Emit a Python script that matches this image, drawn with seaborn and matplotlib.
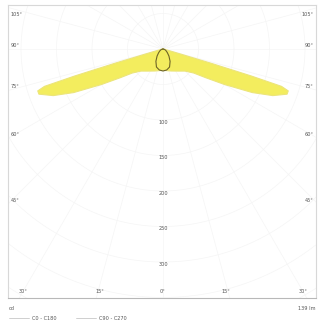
import numpy as np
import pandas as pd
import matplotlib
matplotlib.use("Agg")
import matplotlib.pyplot as plt
import seaborn as sns
from matplotlib.lines import Line2D

# ---- data (luminous intensity, cd, vs angle from nadir, degrees) ----
c0_angles = [0, 20, 35, 45, 52, 56, 60, 64, 67, 70, 71.5, 72.5, 73, 73.5, 74, 76, 80, 90]
c0_values = [30, 33, 38, 44, 55, 72, 100, 140, 168, 186, 186, 175, 130, 70, 25, 6, 2, 0]
c90_angles = [0, 10, 20, 30, 40, 50, 60, 70, 80, 90]
c90_values = [31, 30, 27, 20, 13, 8, 5, 3, 1, 0]
radial_ticks = [100, 150, 200, 250, 300]
side_angles = [45, 60, 75, 90, 105]
bottom_angles = [-30, -15, 0, 15, 30]
legend_labels = ["C0 - C180", "C90 - C270"]
flux_label = "139 lm"
unit_label = "cd"

sns.set_theme(style="white")
plt.rcParams['font.family'] = ['DejaVu Sans']

W, H = 322, 325
fig = plt.figure(figsize=(W / 100, H / 100), dpi=100)
fig.patch.set_facecolor("white")

# frame in pixels
L, R, T, B = 8, 316, 5, 298
ox, oy = 163, 49
s = 0.71  # px per cd
ax = fig.add_axes([L / W, (H - B) / H, (R - L) / W, (B - T) / H])
xlim = ((L - ox) / s, (R - ox) / s)
ylim = (-(B - oy) / s, (oy - T) / s)


def to_xy(angles, values):
    a = np.deg2rad(np.asarray(angles, float))
    v = np.asarray(values, float)
    a_full = np.concatenate([-a[::-1], a[1:]])
    v_full = np.concatenate([v[::-1], v[1:]])
    return v_full * np.sin(a_full), -v_full * np.cos(a_full)


# grid (very faint)
grid_c = "#f5f5f5"
th = np.linspace(0, 2 * np.pi, 400)
for r in range(50, 501, 50):
    ax.plot(r * np.cos(th), r * np.sin(th), color=grid_c, lw=0.5, zorder=0)
for ang in range(0, 360, 15):
    a = np.deg2rad(ang)
    ax.plot([0, 600 * np.sin(a)], [0, -600 * np.cos(a)], color=grid_c, lw=0.5, zorder=0)

x0, y0 = to_xy(c0_angles, c0_values)
x9, y9 = to_xy(c90_angles, c90_values)
df = pd.DataFrame({
    "x": np.concatenate([x0, x9]),
    "y": np.concatenate([y0, y9]),
    "curve": [legend_labels[0]] * len(x0) + [legend_labels[1]] * len(x9),
})
ax.fill(x0, y0, color="#f3ed5e", zorder=2, lw=0)
sns.lineplot(data=df, x="x", y="y", hue="curve", sort=False, estimator=None,
             palette={legend_labels[0]: "#ece57a", legend_labels[1]: "#6e6526"},
             linewidth=0.8, legend=False, ax=ax, zorder=3)

ax.set_xlim(*xlim)
ax.set_ylim(*ylim)
ax.set_xticks([])
ax.set_yticks([])
ax.set_xlabel("")
ax.set_ylabel("")
for sp in ax.spines.values():
    sp.set_color("#d8d8d8")
    sp.set_linewidth(0.8)
ax.spines["bottom"].set_color("#b8b8b8")

tc = "#555555"
fs = 3.6
for r in radial_ticks:
    ax.text(1, -r - 3, str(r), ha="center", va="center", fontsize=fs, color=tc, zorder=5)

for ang in side_angles:
    yd = xlim[0] / np.tan(np.deg2rad(ang)) if ang != 90 else 0.0
    yd = min(yd + 5, ylim[1] - 14)
    ax.text(xlim[0] + 4, yd, f"{ang}°", ha="left", va="center", fontsize=fs, color=tc)
    ax.text(xlim[1] - 4, yd, f"{ang}°", ha="right", va="center", fontsize=fs, color=tc)

for ang in bottom_angles:
    xd = -ylim[0] * np.tan(np.deg2rad(ang)) - 5 * np.sign(ang)
    ha = "center"
    if xd < xlim[0] + 12:
        xd, ha = xlim[0] + 3, "left"
    if xd > xlim[1] - 12:
        xd, ha = xlim[1] - 3, "right"
    ax.text(xd, ylim[0] + 9, f"{abs(ang)}°", ha=ha, va="center", fontsize=fs, color=tc)

fig.text(9 / W, 1 - 308 / H, unit_label, ha="left", va="center", fontsize=fs, color=tc)
fig.text(316 / W, 1 - 309 / H, flux_label, ha="right", va="center", fontsize=fs, color=tc)

handles = [Line2D([], [], color="#c8c8c8", lw=0.6), Line2D([], [], color="#c8c8c8", lw=0.6)]
fig.legend(handles, legend_labels, loc="center left", bbox_to_anchor=(4 / W, 1 - 318 / H),
           ncol=2, frameon=False, fontsize=fs, handlelength=4, handletextpad=0.6,
           columnspacing=4, labelcolor=tc)

fig.savefig("out.png", dpi=100, facecolor="white")
